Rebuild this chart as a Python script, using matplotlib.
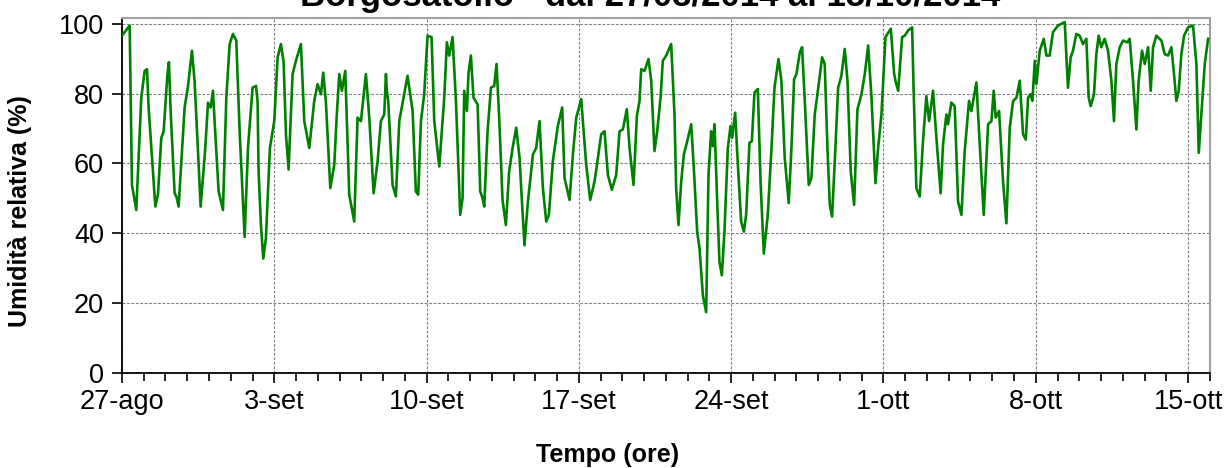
#%% Umidita relativa - Borgosatollo
import matplotlib
matplotlib.use("Agg")
import matplotlib.pyplot as plt
import matplotlib.dates as mdates
import numpy as np
import pandas as pd

plt.rcParams['font.family'] = ['Liberation Sans', 'DejaVu Sans']

#%% Dati (ore dal 27/08/2014 00:00, umidita %)
ore = [0, 8.5, 11, 15.8, 21.3, 25, 27.6, 29.4, 36.8, 39.7, 43.4, 46, 50, 51.8, 53.7, 58.1, 60, 62.5,
       69.1, 72.8, 77.2, 80.1, 86.8, 91.9, 94.9, 97.8, 100.4, 102.2, 106.6, 111.4, 115.1, 118.8, 122.4,
       126.1, 129.8, 135.3, 139, 144.1, 147.8, 149.6, 150.7, 153.3, 155.9, 158.8, 163.2, 168, 171.7,
       175.4, 178.3, 180.9, 183.8, 188.2, 191.9, 197.4, 201.1, 206.6, 212.1, 215.8, 219.5, 222, 225,
       229.8, 234.2, 236.8, 239.7, 242.6, 246.3, 250.7, 256.2, 259.9, 263.6, 269.1, 272.8, 277.6, 282,
       285.6, 289.3, 291.2, 292.2, 293.7, 298.5, 302.2, 305.9, 310.6, 315, 320.6, 324.2, 326.8, 329.8,
       333.4, 337.1, 341.5, 344.5, 350, 355.5, 358.4, 361, 364.7, 368.4, 373.1, 375.7, 377.5, 380.5,
       382.3, 384.9, 387.8, 392.3, 395.2, 397.8, 399.6, 403.3, 407, 410.6, 413.2, 416.1, 419.8, 423.5,
       427.1, 430.9, 434.9, 438.6, 440.4, 444, 447.8, 453.3, 456.9, 460.6, 464.3, 468, 470.9, 475.3,
       480.8, 485.6, 488.2, 493.7, 497.4, 501.1, 506.6, 508.4, 512.1, 516.5, 521.3, 525, 528.6, 532.3,
       536, 540.4, 545.2, 548.9, 552.5, 556.9, 559.9, 564.3, 568, 570.9, 572.8, 576.4, 580.8, 583.8,
       587.4, 590.4, 594.1, 596.6, 600.3, 605.8, 609.5, 611.3, 613.9, 616.9, 619.8, 623.5, 627.9, 630.8,
       634.5, 637.1, 640.8, 644.4, 647, 649.9, 651.8, 653.6, 656.6, 659.1, 661.7, 664.6, 668.3, 671.3,
       673.1, 676.4, 679.4, 683, 686, 688.5, 692.2, 694.8, 697.7, 701.4, 704.4, 708, 712.4, 716.1,
       719.8, 724.2, 727.4, 731.1, 735.5, 738.5, 741.4, 744, 747.7, 750.2, 753.2, 757.6, 760.5, 764.2,
       768.6, 772.3, 775.2, 778.2, 780.8, 783.3, 786.3, 790, 793.6, 797.3, 800.3, 803.9, 807.6, 811.3,
       815.7, 819.4, 823.1, 826.8, 831.2, 834.1, 837.8, 842.2, 848.1, 851.8, 853.2, 856.2, 860.6, 863.5,
       867.2, 871.6, 873.3, 876.3, 880, 883.6, 887.3, 890.3, 894.7, 898.4, 903.1, 905.7, 909.4, 911.2,
       914.9, 918.6, 922.3, 926, 929.6, 934.4, 937, 942.5, 946.2, 950.6, 955.4, 959.1, 961.6, 963.8,
       967.5, 971.9, 975.6, 979.3, 983, 986.7, 990.3, 994, 997, 999.5, 1002.1, 1004.3, 1006.9, 1008.7,
       1012.4, 1016.8, 1019.8, 1023.3, 1027, 1032.5, 1039.9, 1043.5, 1046.5, 1049.1, 1052.7, 1056.4,
       1060.1, 1063.8, 1066.4, 1068.6, 1072.2, 1074.8, 1077.4, 1080.3, 1084, 1087.7, 1091.4, 1094.3,
       1096.9, 1100.6, 1104.3, 1109, 1111.6, 1115.3, 1119, 1121.5, 1125.2, 1128.2, 1131.9, 1134.8,
       1137.4, 1141, 1146.6, 1150.2, 1153.9, 1157.6, 1160.5, 1163.1, 1165.7, 1168.6, 1171.6, 1176,
       1181.5, 1185.2, 1187.8, 1190.7, 1194.4, 1198.1]

umidita = [96.6, 99.5, 53.8, 46.6, 78.8, 86.5, 87, 76, 47.6, 51, 67.3, 69.2, 85, 89, 75, 51.4, 50.5, 47.6,
           76, 82, 92.3, 83.6, 47.6, 64.4, 77.4, 76, 80.8, 72, 52, 46.6, 78.8, 94.2, 97.1,
           95.2, 69.2, 38.9, 64.4, 81.7, 82.2, 77.9, 57.7, 42.3, 32.7, 38.5, 64.4, 72.1, 90.4,
           94.2, 89, 68.3, 58.2, 85.6, 89.4, 94.2, 72.1, 64.4, 77.9, 82.7, 79.8, 86, 77.4,
           52.9, 59.6, 73.1, 85.6, 80.8, 86.5, 51, 43.3, 73.1, 72.1, 85.6, 73.1, 51.4, 60.6,
           72.1, 74, 85.6, 80.8, 77.9, 53.8, 50.5, 72.1, 78.8, 85.1, 75, 51.9, 51, 72.1,
           79.8, 96.6, 96.2, 72.1, 59.1, 78.8, 94.7, 90.9, 96.2, 77.9, 45.2, 50, 80.8, 75,
           86, 90.9, 78.8, 76.9, 51.9, 50, 47.6, 69.2, 81.7, 82.2, 88.5, 73.1, 49.5, 42.3,
           57.7, 64.4, 70.2, 61.5, 52.9, 36.5, 49, 62.5, 64.4, 72.1, 52.9, 43.3, 45.2, 60.6,
           70.7, 76, 55.8, 49.5, 62.5, 73.1, 78.4, 72.1, 59.6, 49.5, 54.8, 61.5, 68.3, 69.2,
           56.7, 52.4, 56.7, 69.2, 69.7, 75.5, 64.4, 53.8, 73.6, 77.9, 87, 86.5, 89.9, 83.7,
           63.5, 69.2, 78.8, 89.4, 90.9, 94.2, 74, 52.9, 42.3, 54.8, 62.5, 66.3, 71.2, 58.7,
           40.4, 35.6, 22.1, 17.3, 56.7, 69.2, 64.9, 71.2, 49, 31.7, 27.9, 40.4, 64.4, 70.7,
           67.3, 74.5, 59.6, 43.3, 40.4, 45.2, 65.9, 66.3, 80.3, 81.3, 54.8, 34.1, 45.2, 62.5,
           81.7, 89.9, 83.7, 61.5, 48.6, 64.4, 84.1, 85.6, 91.8, 93.3, 77.9, 53.8, 55.8, 74,
           82.7, 90.4, 88.5, 64.4, 48.1, 44.7, 60.6, 81.7, 85.1, 92.8, 83.7, 57.7, 48.1, 75.5,
           79.8, 85.6, 93.8, 78.8, 54.3, 64.4, 74, 96.2, 98.6, 85.6, 83.7, 80.8, 96.2, 96.6,
           98.1, 99, 80.8, 52.9, 50.5, 66.3, 79.3, 72.1, 80.8, 67.3, 51.4, 65.4, 74, 71.2,
           77.4, 76.4, 49, 45.2, 63.5, 77.9, 75, 83.2, 65.4, 45.2, 71.2, 72.1, 80.8, 73.1,
           75, 54.8, 42.8, 70.2, 77.9, 78.8, 83.7, 68.3, 66.8, 78.8, 79.8, 77.9, 89.4, 82.7,
           92.3, 95.7, 90.9, 90.9, 97.6, 99.5, 100.5, 81.7, 90.4, 92.3, 97.1, 96.6,
           94.2, 95.7, 78.8, 76.4, 79.8, 91.3, 96.6, 93.3, 95.7, 92.3, 83.7, 72.1,
           88.5, 93.3, 95.2, 94.7, 95.7, 83.7, 69.7, 83.7, 92.3, 88.5, 93.3, 80.8,
           93.3, 96.6, 95.2, 91.3, 90.9, 93.3, 85.6, 77.9, 80.8, 91.3, 96.6, 99,
           99.5, 88.5, 63, 74, 88.5, 95.7]

etichette_x = ["27-ago", "3-set", "10-set", "17-set", "24-set", "1-ott", "8-ott", "15-ott"]
titolo = "Borgosatollo - dal 27/08/2014 al 15/10/2014"

#%% Grafico
inizio = pd.Timestamp("2014-08-27")
fine = pd.Timestamp("2014-10-16")
tempo = inizio + pd.to_timedelta(ore, unit="h")

fig = plt.figure(figsize=(12.27, 4.68), dpi=100)
ax = fig.add_axes([0.0994, 0.204, 0.8866, 0.757])

ax.plot(tempo, umidita, color="#008000", linewidth=1.9, zorder=3)

ax.set_ylim(0, 101.6)
ax.set_yticks(np.arange(0, 101, 20))
ax.set_xlim(inizio, fine)

settimane = pd.date_range(inizio, periods=len(etichette_x), freq="7D")
ax.set_xticks(settimane)
ax.set_xticklabels(etichette_x)
ax.xaxis.set_minor_locator(mdates.DayLocator())

ax.grid(True, which="major", color="#808080", linestyle=(0, (2.5, 1.5)), linewidth=0.8)
ax.set_axisbelow(True)

ax.tick_params(axis="both", which="both", direction="out", labelsize=19.5, color="black", width=1.2)
ax.tick_params(axis="x", which="major", length=7, pad=5)
ax.tick_params(axis="x", which="minor", length=6)
ax.tick_params(axis="y", length=7, pad=6)

for side in ["left", "bottom"]:
    ax.spines[side].set_color("black")
    ax.spines[side].set_linewidth(1.3)
for side in ["top", "right"]:
    ax.spines[side].set_color("#a0a0a0")
    ax.spines[side].set_linewidth(1.5)

ax.set_ylabel("Umidità relativa (%)", fontsize=18, fontweight="bold")
ax.yaxis.set_label_coords(-0.083, 0.455)
ax.set_xlabel("Tempo (ore)", fontsize=18, fontweight="bold")
ax.xaxis.set_label_coords(0.446, -0.2)

fig.text(0.53, 1.008, titolo, ha="center", va="center", fontsize=25, fontweight="bold")

plt.savefig("out.png", dpi=100)
